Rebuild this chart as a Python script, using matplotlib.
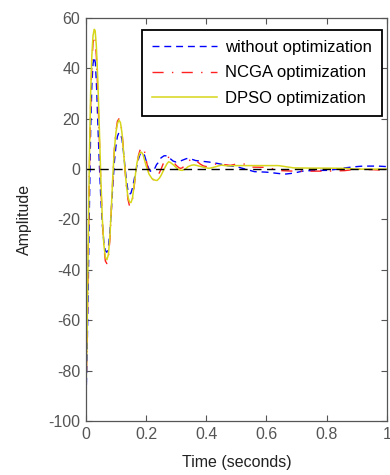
import numpy as np
import matplotlib.pyplot as plt

plt.rcParams['font.family'] = ['Liberation Sans', 'DejaVu Sans']
plt.rcParams['axes.unicode_minus'] = False

# time samples (s) and responses for each controller
t_without = [0, 0.004, 0.008, 0.012, 0.016, 0.02, 0.024, 0.028, 0.032, 0.036, 0.04, 0.045,
             0.05, 0.055, 0.06, 0.065, 0.07, 0.075, 0.08, 0.085, 0.09, 0.095, 0.1, 0.105,
             0.11, 0.115, 0.12, 0.125, 0.13, 0.135, 0.14, 0.145, 0.15, 0.155, 0.16, 0.165,
             0.17, 0.175, 0.18, 0.185, 0.19, 0.195, 0.2, 0.205, 0.21, 0.215, 0.22, 0.225,
             0.23, 0.235, 0.24, 0.245, 0.25, 0.26, 0.27, 0.28, 0.29, 0.3, 0.31, 0.32, 0.335,
             0.35, 0.365, 0.38, 0.41, 0.44, 0.47, 0.5, 0.53, 0.56, 0.6, 0.63, 0.66, 0.69,
             0.72, 0.76, 0.8, 0.84, 0.86, 0.89, 0.92, 0.97, 1.0]
y_without = [-95, -75, -48, -15, 15, 33, 42, 44.5, 42, 32, 18, 2,
             -12, -22, -29, -32.5, -33, -31, -25, -16, -6, 3, 9, 13,
             14.5, 14, 12, 7, 1, -4.5, -8.5, -10, -9.5, -7.5, -4.5, -1.5,
             1.5, 4, 5.8, 6.5, 6.5, 5.5, 3.5, 1.5, 0, -0.8, -1, -0.5,
             0.5, 1.8, 2.5, 3.5, 4.5, 5.3, 5.3, 4.2, 3.2, 2.8, 3, 3.5, 4.2,
             4, 3.4, 3.2, 2.8, 2.2, 1.4, 1, 0, -1, -1.2, -1.6, -2, -1.6,
             -0.8, -0.5, -0.5, 0, 0.5, 0.9, 1.2, 1.2, 1]

t_ncga = [0, 0.004, 0.008, 0.012, 0.016, 0.02, 0.024, 0.028, 0.031, 0.035, 0.04, 0.045,
          0.05, 0.055, 0.06, 0.065, 0.07, 0.075, 0.08, 0.085, 0.09, 0.095, 0.1, 0.105,
          0.11, 0.115, 0.12, 0.125, 0.13, 0.135, 0.14, 0.145, 0.15, 0.155, 0.16, 0.165,
          0.17, 0.175, 0.18, 0.185, 0.19, 0.195, 0.2, 0.205, 0.21, 0.215, 0.22, 0.225,
          0.23, 0.235, 0.24, 0.25, 0.26, 0.265, 0.27, 0.28, 0.29, 0.3, 0.31, 0.315, 0.32,
          0.33, 0.34, 0.35, 0.355, 0.36, 0.37, 0.38, 0.39, 0.4, 0.42, 0.44, 0.46, 0.48,
          0.5, 0.53, 0.55, 0.6, 0.65, 0.69, 0.75, 0.8, 0.86, 0.9, 0.95, 1.0]
y_ncga = [-92, -70, -35, 0, 25, 42, 50, 53, 52, 45, 30, 12,
          -6, -21, -31, -36.5, -37.5, -35, -28, -16, -3, 8, 15, 19,
          20, 19, 15, 8, 0, -7, -12, -14.5, -14.5, -12, -7.5, -2.5,
          2, 5.5, 7.5, 8.5, 8.6, 7, 4, 1, -1.5, -3, -4, -4.2,
          -4, -3.6, -2.5, 0, 3, 4.2, 4.8, 4.5, 3, 1.5, 0.5, 0.3, 0.5,
          1.5, 3, 4, 4.2, 4, 3, 2, 1.3, 1, 1.5, 2.4, 1.8, 1.5,
          2, 2, 0.8, 0.7, -0.6, -0.8, -0.8, -0.8, -0.6, 0, -0.2, -0.5]

t_dpso = [0, 0.004, 0.008, 0.012, 0.016, 0.02, 0.024, 0.028, 0.031, 0.035, 0.04, 0.045,
          0.05, 0.055, 0.06, 0.065, 0.07, 0.075, 0.08, 0.085, 0.09, 0.095, 0.1, 0.105,
          0.11, 0.115, 0.12, 0.125, 0.13, 0.135, 0.14, 0.145, 0.15, 0.155, 0.16, 0.165,
          0.17, 0.175, 0.18, 0.185, 0.19, 0.2, 0.21, 0.22, 0.23, 0.237, 0.245, 0.25, 0.26,
          0.27, 0.275, 0.28, 0.29, 0.3, 0.31, 0.32, 0.33, 0.34, 0.35, 0.36, 0.38, 0.4,
          0.41, 0.43, 0.45, 0.47, 0.5, 0.6, 0.64, 0.69, 0.75, 0.8, 0.86, 0.9, 1.0]
y_dpso = [-92, -68, -30, 5, 30, 45, 53, 55.5, 55, 49, 35, 16,
          -4, -20, -30, -35, -36, -34, -27, -15, -2, 8, 14.5, 18,
          19.5, 18.5, 14.5, 7.5, 0, -6.5, -11, -13, -13.3, -11.5, -7, -2,
          2.5, 5, 6.5, 6.7, 5.8, 1.5, -2, -3.8, -4.4, -4.5, -3.5, -2.5, 0,
          2.2, 2.9, 2.7, 1.8, 0.6, -0.3, -0.5, 0, 1, 1.5, 1.7, 1.1, 0.5,
          0.3, 0.9, 1.6, 1.3, 1.4, 1.4, 1.4, 0.5, 0.4, 0.4, 0.3, 0, 0]

fig = plt.figure(figsize=(3.9, 4.75), dpi=100)
ax = fig.add_axes([0.22, 0.1137, 0.772, 0.8484])

ax.plot(t_without, y_without, color='#0000ff', lw=1.0, dashes=(5, 3.5),
        label='without optimization')
ax.plot(t_ncga, y_ncga, color='#ff2020', lw=1.0, dashes=(8, 6, 1, 6),
        label='NCGA optimization')
ax.plot(t_dpso, y_dpso, color='#d6d61a', lw=1.1, label='DPSO optimization')
ax.axhline(0, color='black', lw=1.0, dashes=(6, 4))

ax.set_xlim(0, 1)
ax.set_ylim(-100, 60)
ax.set_xticks(np.arange(0, 1.01, 0.2))
ax.set_xticklabels(['0', '0.2', '0.4', '0.6', '0.8', '1'])
ax.set_yticks(np.arange(-100, 61, 20))

ax.tick_params(direction='in', length=4, width=0.8, top=True, right=True,
               labelsize=11.5, labelcolor='#555555', color='#555555', pad=4)
for sp in ax.spines.values():
    sp.set_color('#555555')
    sp.set_linewidth(0.9)

ax.set_xlabel('Time (seconds)', fontsize=11.5, color='#222222', labelpad=10)
ax.set_ylabel('Amplitude', fontsize=11.5, color='#222222', labelpad=12)

leg = ax.legend(loc='upper right', bbox_to_anchor=(0.985, 0.97), fontsize=12,
                frameon=True, fancybox=False, edgecolor='black', framealpha=1,
                handlelength=3.9, handletextpad=0.5, labelspacing=0.62,
                borderpad=0.6, borderaxespad=0)
leg.get_frame().set_linewidth(1.3)

fig.savefig('out.png', dpi=100)
